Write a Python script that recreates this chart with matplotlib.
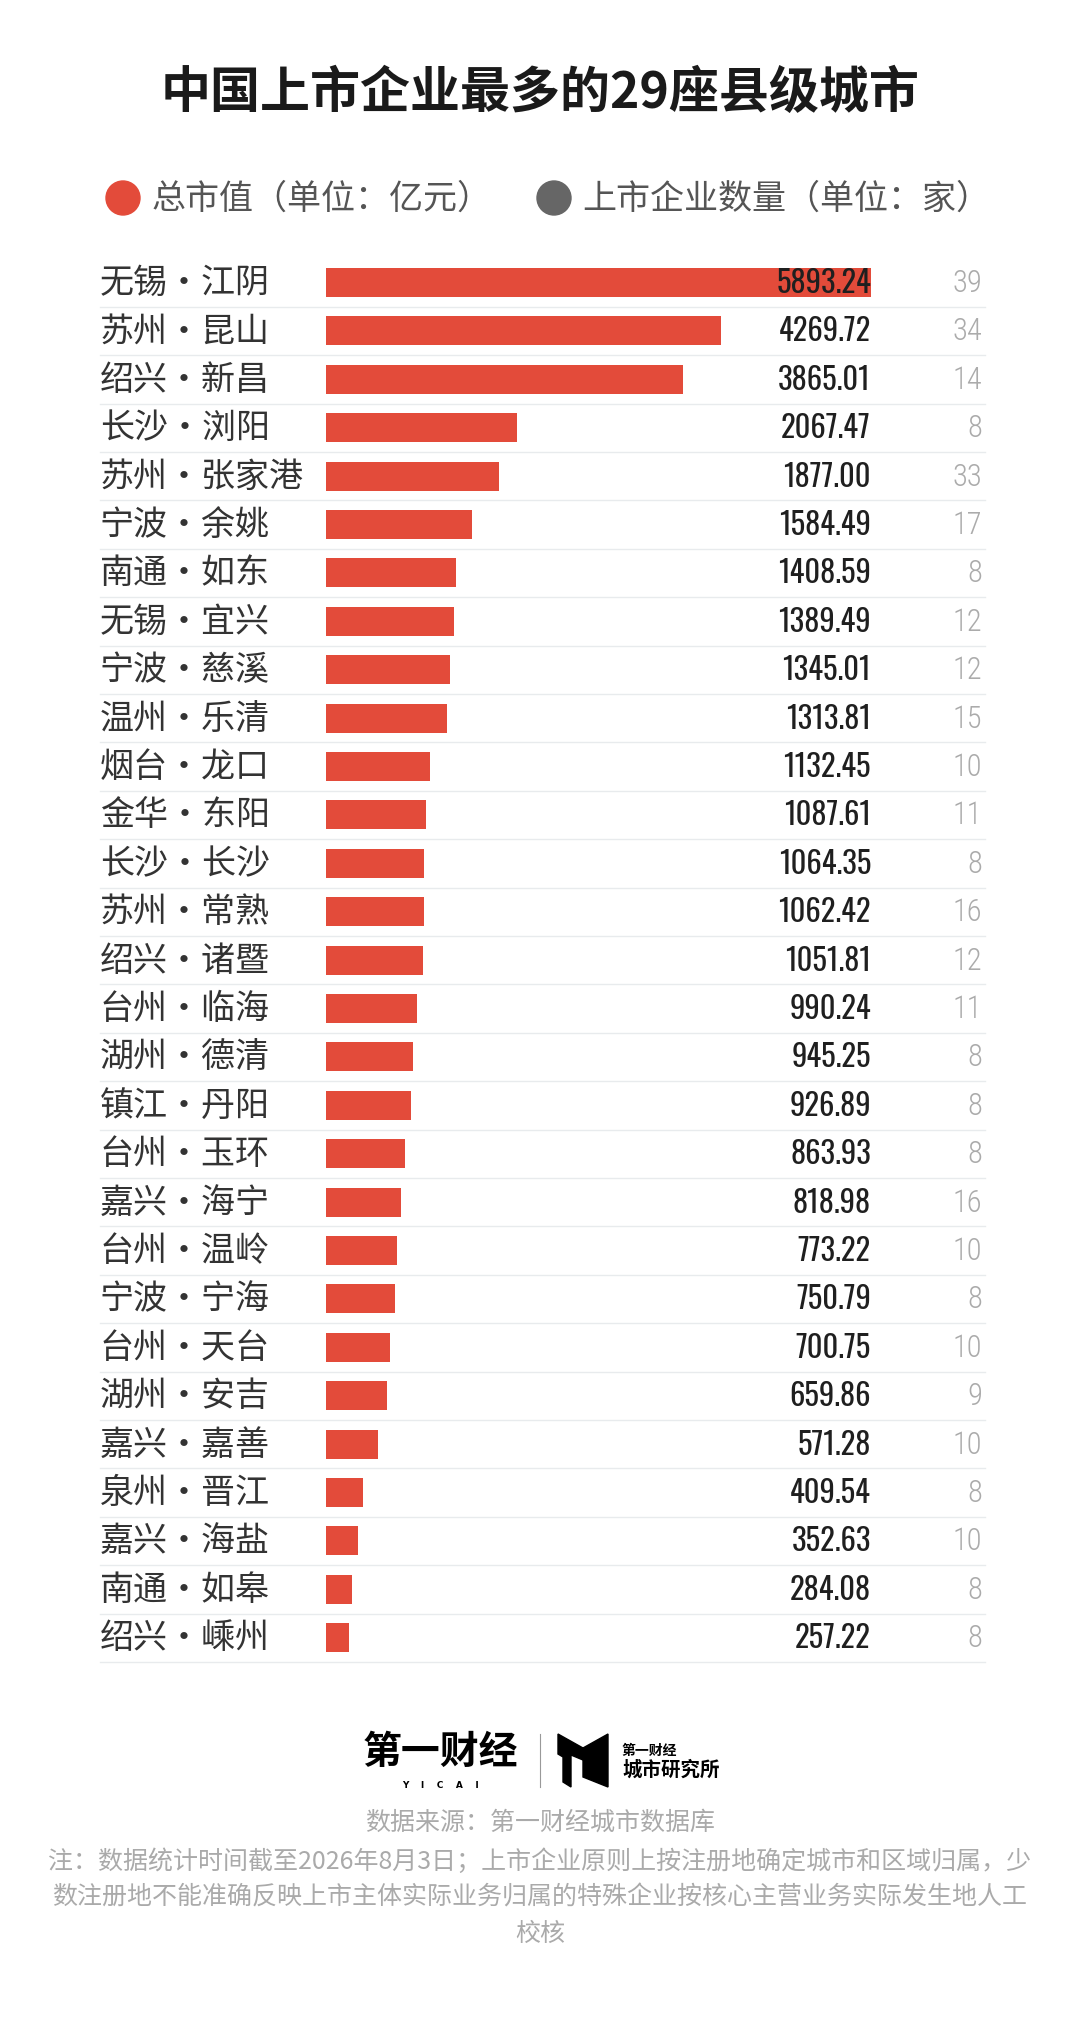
import numpy as np
import matplotlib
matplotlib.use('Agg')
import matplotlib.pyplot as plt
from matplotlib.patches import Circle, Polygon

plt.rcParams['font.family'] = ['Noto Sans CJK SC', 'DejaVu Sans']

# data
cities = ['无锡·江阴', '苏州·昆山', '绍兴·新昌', '长沙·浏阳', '苏州·张家港',
          '宁波·余姚', '南通·如东', '无锡·宜兴', '宁波·慈溪', '温州·乐清',
          '烟台·龙口', '金华·东阳', '长沙·长沙', '苏州·常熟', '绍兴·诸暨',
          '台州·临海', '湖州·德清', '镇江·丹阳', '台州·玉环', '嘉兴·海宁',
          '台州·温岭', '宁波·宁海', '台州·天台', '湖州·安吉', '嘉兴·嘉善',
          '泉州·晋江', '嘉兴·海盐', '南通·如皋', '绍兴·嵊州']
market_cap = [5893.24, 4269.72, 3865.01, 2067.47, 1877.00, 1584.49, 1408.59, 1389.49,
              1345.01, 1313.81, 1132.45, 1087.61, 1064.35, 1062.42, 1051.81, 990.24,
              945.25, 926.89, 863.93, 818.98, 773.22, 750.79, 700.75, 659.86, 571.28,
              409.54, 352.63, 284.08, 257.22]
company_count = [39, 34, 14, 8, 33, 17, 8, 12, 12, 15, 10, 11, 8, 16, 12, 11, 8, 8, 8,
                 16, 10, 8, 10, 9, 10, 8, 10, 8, 8]

title = '中国上市企业最多的29座县级城市'
legend_cap = '总市值（单位：亿元）'
legend_count = '上市企业数量（单位：家）'
source = '数据来源：第一财经城市数据库'
note_lines = ['注：数据统计时间截至2026年8月3日；上市企业原则上按注册地确定城市和区域归属，少',
              '数注册地不能准确反映上市主体实际业务归属的特殊企业按核心主营业务实际发生地人工',
              '校核']

RED = '#E34B3A'
GREY = '#666666'
NUM_FONT = ['Oswald', 'Roboto Condensed', 'DejaVu Sans']
NUM_LIGHT = ['Roboto Condensed', 'Oswald', 'DejaVu Sans']

W, H = 1080, 2033
fig = plt.figure(figsize=(W / 100, H / 100), dpi=100)
fig.patch.set_facecolor('white')

# page canvas in pixels
bg = fig.add_axes([0, 0, 1, 1])
bg.set_xlim(0, W)
bg.set_ylim(H, 0)
bg.axis('off')

# title + legend
bg.text(540, 93, title, ha='center', va='center', fontsize=36, fontweight='bold', color='#1a1a1a')
bg.add_patch(Circle((123, 199), 17, color=RED))
bg.text(152, 199, legend_cap, ha='left', va='center', fontsize=24.5, color='#555555')
bg.add_patch(Circle((554, 199), 17, color=GREY))
bg.text(582, 199, legend_count, ha='left', va='center', fontsize=24.5, color='#555555')

# chart area
left_px, right_px = 100, 985
zero_px, max_px = 325.5, 871
top_px, pitch = 259.3, 48.4
n = len(cities)
ax = fig.add_axes([left_px / W, 1 - (top_px + n * pitch) / H,
                   (right_px - left_px) / W, n * pitch / H])
scale = max(market_cap) / (max_px - zero_px)
ax.set_xlim(-(zero_px - left_px) * scale, (right_px - zero_px) * scale)
ax.set_ylim(n - 0.5, -0.5)
ax.axis('off')

y = np.arange(n)
ax.barh(y, market_cap, height=0.6, color=RED, zorder=2)
for i in range(n):
    ax.axhline(i + 0.5, color='#E8EBED', lw=1.0, clip_on=False, zorder=1)

ytrans = ax.get_yaxis_transform()
for i in range(n):
    ax.text(0, i, cities[i], transform=ytrans, ha='left', va='center',
            fontsize=24.5, color='#333333')
    ax.text(max(market_cap), i, f'{market_cap[i]:.2f}', ha='right', va='center',
            family=NUM_FONT, fontsize=22, color='#1f1f1f', zorder=3)
    ax.text(0.997, i, str(company_count[i]), transform=ytrans, ha='right', va='center',
            family=NUM_LIGHT, fontsize=22, fontweight='light', color='#ababab')

# footer logo
bg.text(440, 1752, '第一财经', ha='center', va='center', fontsize=28, fontweight='heavy', color='black')
bg.text(440, 1786, 'Y    I    C    A    I', ha='center', va='center', fontsize=6.5,
        fontweight='bold', family='DejaVu Sans', color='black')
bg.plot([540, 540], [1735, 1788], color='#999999', lw=0.8)
bg.add_patch(Polygon([(558, 1735), (583, 1749), (583, 1761), (571, 1756), (571, 1788),
                      (563, 1783), (563, 1758), (558, 1755)], color='black'))
bg.add_patch(Polygon([(583, 1749), (608, 1735), (608, 1788), (583, 1778)], color='black'))
bg.text(622, 1751, '第一财经', ha='left', va='center', fontsize=10, fontweight='bold', color='black')
bg.text(622, 1770, '城市研究所', ha='left', va='center', fontsize=14, fontweight='bold', color='black')

# source + notes
bg.text(540, 1823, source, ha='center', va='center', fontsize=18, color='#aaaaaa')
for k, line in enumerate(note_lines):
    bg.text(540, 1862 + k * 36, line, ha='center', va='center', fontsize=18, color='#aaaaaa')

fig.savefig('out.png', dpi=100, facecolor='white')
